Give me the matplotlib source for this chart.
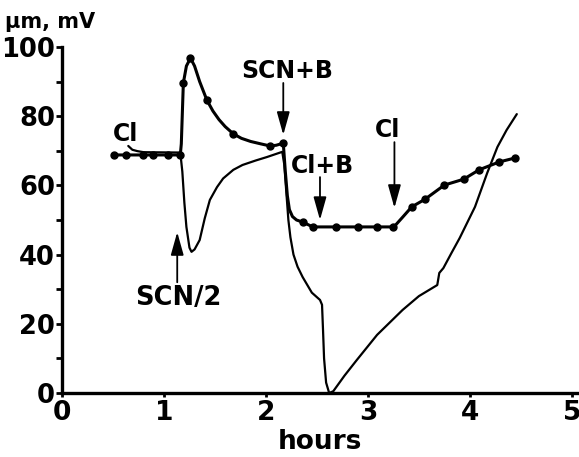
import matplotlib
matplotlib.use("Agg")
import matplotlib.pyplot as plt
import numpy as np

plt.rcParams['font.family'] = ['DejaVu Sans']
plt.rcParams['font.weight'] = 'bold'

# dotted trace: measured points
dot_hours = [0.51, 0.63, 0.79, 0.89, 1.04, 1.16, 1.19, 1.26, 1.42, 1.68, 2.04, 2.17,
             2.36, 2.46, 2.69, 2.90, 3.09, 3.25, 3.43, 3.56, 3.75, 3.94, 4.09, 4.29, 4.44]
dot_vals = [68.8, 68.8, 68.8, 68.8, 68.8, 68.8, 89.6, 96.8, 84.7, 74.9, 71.4, 72.2,
            49.4, 48.0, 48.0, 48.0, 48.0, 48.0, 53.8, 56.0, 60.1, 61.8, 64.5, 66.8, 67.9]

# line drawn through the dots
trace1_hours = [0.51, 1.16, 1.17, 1.19, 1.22, 1.26, 1.30, 1.35, 1.42, 1.48, 1.54, 1.60, 1.68,
                1.76, 1.85, 1.95, 2.04, 2.10, 2.17, 2.19, 2.21, 2.23, 2.26, 2.30, 2.36, 2.46,
                2.69, 2.90, 3.09, 3.25, 3.27, 3.34, 3.43, 3.56, 3.75, 3.94, 4.09, 4.29, 4.44]
trace1_vals = [68.8, 68.8, 72.0, 89.6, 94.5, 96.8, 94.5, 90.0, 84.7, 81.5, 79.0, 77.0, 74.9,
               73.6, 72.7, 72.0, 71.4, 71.6, 72.2, 64.0, 57.0, 53.0, 51.0, 50.0, 49.4, 48.0,
               48.0, 48.0, 48.0, 48.0, 48.5, 50.8, 53.8, 56.0, 60.1, 61.8, 64.5, 66.8, 67.9]

# continuous trace (no markers)
trace2_hours = [0.65, 0.69, 0.74, 0.80, 1.16, 1.18, 1.20, 1.22, 1.25, 1.27, 1.30, 1.35, 1.40,
                1.45, 1.52, 1.58, 1.68, 1.77, 1.90, 2.01, 2.16, 2.18, 2.20, 2.22, 2.24, 2.27,
                2.31, 2.36, 2.45, 2.53, 2.55, 2.56, 2.57, 2.59, 2.62, 2.66, 2.77, 2.89, 3.09,
                3.34, 3.50, 3.68, 3.70, 3.74, 3.82, 3.90, 4.05, 4.17, 4.27, 4.36, 4.46]
trace2_vals = [71.4, 70.3, 69.9, 69.6, 69.5, 64.0, 55.0, 48.0, 42.0, 40.8, 41.5, 44.2, 50.5,
               55.8, 59.5, 62.0, 64.5, 65.9, 67.2, 68.2, 69.7, 66.0, 58.0, 50.0, 45.0, 40.0,
               36.5, 33.5, 29.0, 26.9, 25.5, 18.0, 10.0, 3.0, 0.0, 0.5, 5.0, 9.5, 16.8,
               24.0, 28.0, 31.2, 34.7, 36.1, 40.5, 44.8, 53.8, 63.6, 71.1, 76.0, 80.6]

# solution changes: label, text position, arrow tail, arrow tip
labels = ["SCN+B", "Cl+B", "Cl", "SCN/2"]
label_pos = [(1.76, 91.0), (2.24, 63.6), (3.07, 74.0), (0.72, 25.4)]
arrow_tail = [(2.17, 89.6), (2.53, 62.4), (3.26, 72.5), (1.13, 32.0)]
arrow_tip = [(2.17, 74.6), (2.53, 50.0), (3.26, 53.5), (1.13, 46.5)]

fig = plt.figure(figsize=(5.79, 4.57), dpi=100)
ax = fig.add_axes([62 / 579, 64 / 457, 517 / 579, 346 / 457])

ax.plot(trace1_hours, trace1_vals, color='k', lw=2.2, solid_capstyle='round')
ax.plot(dot_hours, dot_vals, 'o', color='k', ms=5)
ax.plot(trace2_hours, trace2_vals, color='k', lw=1.6, solid_capstyle='round', clip_on=False)

for lab, pos, tail, tip in zip(labels, label_pos, arrow_tail, arrow_tip):
    size = 18.5 if lab == "SCN/2" else 17
    ax.text(pos[0], pos[1], lab, fontsize=size, ha='left', va='baseline')
    ax.annotate("", xy=tip, xytext=tail,
                arrowprops=dict(arrowstyle='-|>,head_length=1.0,head_width=0.28',
                                color='k', lw=1.3, shrinkA=0, shrinkB=0, mutation_scale=14))

ax.text(0.50, 72.8, "Cl", fontsize=17, ha='left', va='baseline')

ax.set_xlim(0, 5.07)
ax.set_ylim(0, 100)
ax.set_xticks([0, 1, 2, 3, 4, 5])
ax.set_yticks([0, 20, 40, 60, 80, 100])
ax.set_yticks(np.arange(10, 100, 20), minor=True)

for side in ['top', 'right']:
    ax.spines[side].set_visible(False)
for side in ['left', 'bottom']:
    ax.spines[side].set_linewidth(2.4)

ax.tick_params(axis='y', direction='out', length=4, width=2, pad=1, labelsize=18.5)
ax.tick_params(axis='y', which='minor', direction='out', length=4, width=2)
ax.tick_params(axis='x', direction='out', length=3, width=2, pad=2, labelsize=19)

fig.text(5 / 579, 1 - 28 / 457, "µm, mV", fontsize=15, ha='left', va='baseline')
fig.text(320 / 579, 1 - 449 / 457, "hours", fontsize=19, ha='center', va='baseline')

fig.savefig("out.png", dpi=100)
